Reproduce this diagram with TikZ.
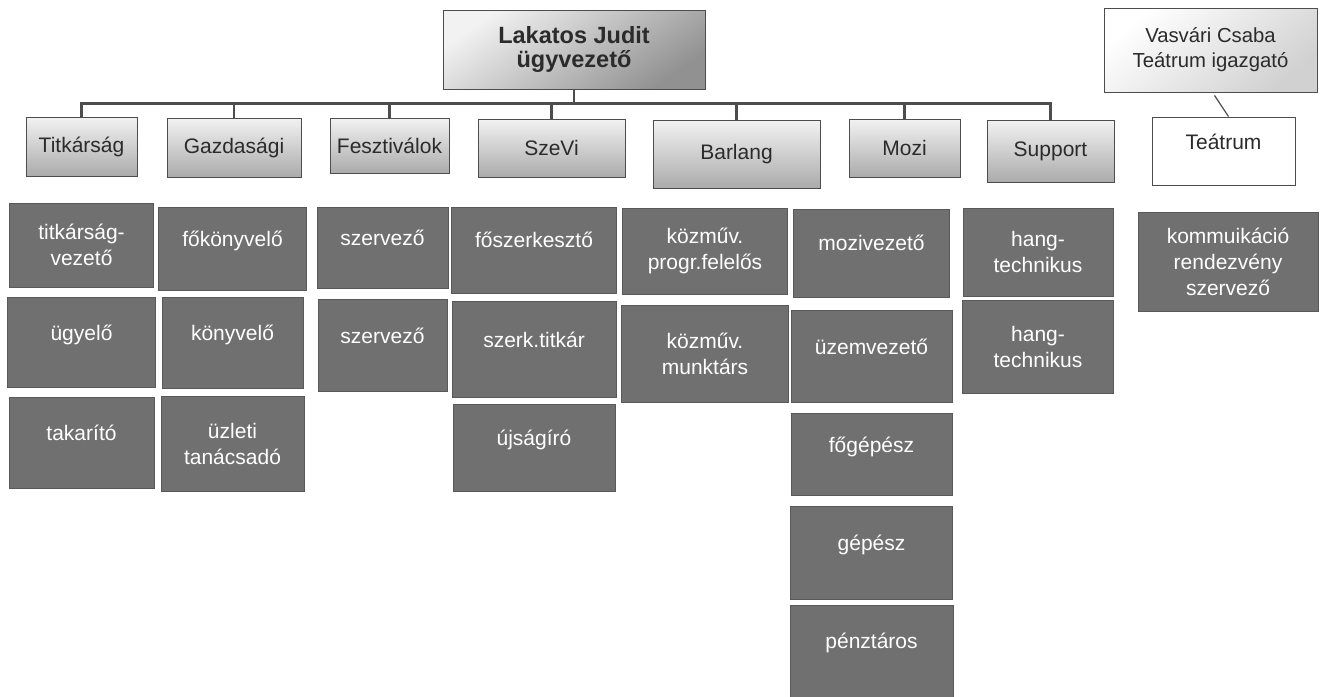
\documentclass[tikz,border=0pt]{standalone}
\usepackage{fontspec}
\setmainfont{Liberation Sans}
\usetikzlibrary{positioning}
\definecolor{orgLine}{HTML}{4D4D4D}
\definecolor{orgLight}{HTML}{F2F2F2}
\definecolor{orgShade}{HTML}{ABABAB}
\definecolor{orgStaff}{HTML}{707070}
\definecolor{orgEdge}{HTML}{595959}
\definecolor{orgInk}{HTML}{2B2B2B}

\begin{document}
\begin{tikzpicture}[
      x=1pt, y=-1pt,
      node distance=9pt,
      every node/.style={font=\fontsize{21}{26}\selectfont, text=orgInk, inner sep=3pt},
      ceobox/.style={draw=orgLine, line width=1pt, top color=orgLight, bottom color=orgShade!85!black,
                     shading angle=35, align=center, font=\bfseries\fontsize{23.5}{24}\selectfont},
      dirbox/.style={draw=orgLine, line width=0.9pt, top color=white, bottom color=orgShade!55,
                     shading angle=40, align=center, font=\fontsize{20.3}{25}\selectfont},
      deptbox/.style={draw=orgLine, line width=0.9pt, top color=orgLight, bottom color=orgShade, align=center},
      unitbox/.style={draw=orgLine, line width=0.9pt, fill=white, text height=15pt, text depth=19pt},
      staffbox/.style={draw=orgEdge, line width=0.8pt, fill=orgStaff, text=white, align=center},
      staffone/.style={staffbox, text height=15pt, text depth=20pt},
      busline/.style={draw=orgLine, line width=2.6pt},
      tieline/.style={draw=orgLine, line width=1.2pt}
    ]
    \fill[white] (0,0) rectangle (1321,696);
    \useasboundingbox (0,0) rectangle (1321,696);

    % --- management ---
    \node[ceobox, minimum width=262pt, minimum height=79pt] (ceo) at (574,49.5) {Lakatos Judit\\ügyvezető};
    \node[dirbox, minimum width=213pt, minimum height=84pt] (vasvari) at (1210.5,50) {Vasvári Csaba\\Teátrum igazgató};

    % --- departments ---
    \node[deptbox, minimum width=111pt, minimum height=59pt] (tit) at (81.5,146.5) {Titkárság};
    \node[deptbox, minimum width=134pt, minimum height=59pt] (gaz) at (234,147.5) {Gazdasági};
    \node[deptbox, minimum width=119pt, minimum height=55pt] (fesz) at (389.5,145.5) {Fesztiválok};
    \node[deptbox, minimum width=147pt, minimum height=58pt] (szevi) at (551.5,148) {SzeVi};
    \node[deptbox, minimum width=167pt, minimum height=68pt] (barlang) at (736.5,154) {Barlang};
    \node[deptbox, minimum width=111pt, minimum height=58pt] (mozi) at (904.5,148) {Mozi};
    \node[deptbox, minimum width=127pt, minimum height=62pt] (support) at (1050.5,151) {Support};
    \node[unitbox, minimum width=143pt, minimum height=68pt] (teatrum) at (1223.5,151) {Teátrum};

    \coordinate[below=14pt of ceo] (bus);
    \draw[busline] (ceo) -- (bus);
    \draw[busline] (bus) -| (tit.north);
    \draw[busline] (bus) -| (gaz.north);
    \draw[busline] (bus) -| (fesz.north);
    \draw[busline] (bus) -| (szevi.north);
    \draw[busline] (bus) -| (barlang.north);
    \draw[busline] (bus) -| (mozi.north);
    \draw[busline] (bus) -| (support.north);
    \draw[tieline] ([xshift=4pt, yshift=-3pt]vasvari.south) -- ([xshift=5pt]teatrum.north);

    % --- staff (stacked per department) ---
    \node[staffbox, minimum width=144pt, minimum height=84pt] (tv) at (81.5,245) {titkárság-\\vezető};
    \node[staffone, minimum width=148pt, minimum height=90pt, below=10pt of tv] (ugy) {ügyelő};
    \node[staffone, minimum width=145pt, minimum height=91pt, below=9pt of ugy] (tak) {takarító};

    \node[staffone, minimum width=148pt, minimum height=83pt] (fok) at (232.5,248.5) {főkönyvelő};
    \node[staffone, minimum width=141pt, minimum height=91pt, below=7pt of fok] (kony) {könyvelő};
    \node[staffbox, minimum width=143pt, minimum height=95pt, below=7pt of kony] (uzl) {üzleti\\tanácsadó};

    \node[staffone, minimum width=131pt, minimum height=81pt] (szv) at (382.5,247.5) {szervező};
    \node[staffone, minimum width=129pt, minimum height=92pt, below=11pt of szv] (szvb) {szervező};

    \node[staffone, minimum width=165pt, minimum height=86pt] (fosz) at (534,250) {főszerkesztő};
    \node[staffone, minimum width=164pt, minimum height=96pt, below=8pt of fosz] (szt) {szerk.titkár};
    \node[staffone, minimum width=162pt, minimum height=87pt, below=6pt of szt] (ujs) {újságíró};

    \node[staffbox, minimum width=165pt, minimum height=86pt] (kpf) at (705,251) {közműv.\\progr.felelős};
    \node[staffbox, minimum width=167pt, minimum height=97pt, below=11pt of kpf] (kmt) {közműv.\\munktárs};

    \node[staffone, minimum width=156pt, minimum height=88pt] (mv) at (871.5,253) {mozivezető};
    \node[staffone, minimum width=161pt, minimum height=92pt, below=13pt of mv] (uv) {üzemvezető};
    \node[staffone, minimum width=161pt, minimum height=82pt, below=10pt of uv] (fg) {főgépész};
    \node[staffone, minimum width=162pt, minimum height=93pt, below=10pt of fg] (gp) {gépész};
    \node[staffone, minimum width=163pt, minimum height=92pt, below=5pt of gp] (pt) {pénztáros};

    \node[staffbox, minimum width=150pt, minimum height=88pt] (ht) at (1038,252) {hang-\\technikus};
    \node[staffbox, minimum width=151pt, minimum height=93pt, below=4pt of ht] (htb) {hang-\\technikus};

    \node[staffbox, minimum width=180pt, minimum height=99pt] (kom) at (1228,261.5) {kommuikáció\\rendezvény\\szervező};
  \end{tikzpicture}
\end{document}
